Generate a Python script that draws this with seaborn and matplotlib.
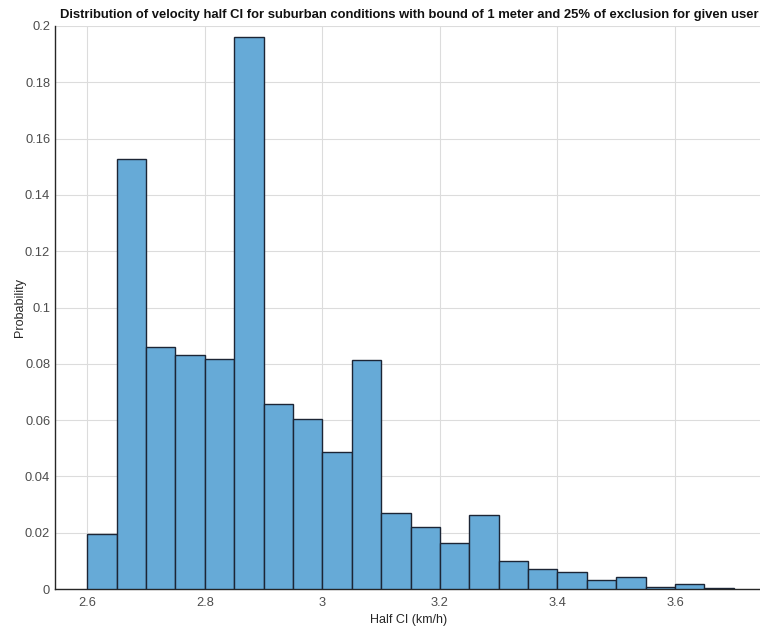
import numpy as np
import pandas as pd
import matplotlib
matplotlib.use('Agg')
import matplotlib.pyplot as plt
import seaborn as sns

# histogram bins (km/h) and probability per bin
bin_edges = [2.60, 2.65, 2.70, 2.75, 2.80, 2.85, 2.90, 2.95, 3.00, 3.05, 3.10, 3.15,
             3.20, 3.25, 3.30, 3.35, 3.40, 3.45, 3.50, 3.55, 3.60, 3.65, 3.70]
probability = [0.0195, 0.1527, 0.0859, 0.0833, 0.0816, 0.1962, 0.0656, 0.0605, 0.0485,
               0.0812, 0.0270, 0.0219, 0.0165, 0.0262, 0.0100, 0.0072, 0.0059, 0.0033,
               0.0043, 0.0007, 0.0016, 0.0004]
x_ticks = [2.6, 2.8, 3.0, 3.2, 3.4, 3.6]
x_tick_labels = ['2.6', '2.8', '3', '3.2', '3.4', '3.6']
y_ticks = [0, 0.02, 0.04, 0.06, 0.08, 0.1, 0.12, 0.14, 0.16, 0.18, 0.2]
y_tick_labels = ['0', '0.02', '0.04', '0.06', '0.08', '0.1', '0.12', '0.14', '0.16', '0.18', '0.2']

edges = np.array(bin_edges)
df = pd.DataFrame({'half_ci': (edges[:-1] + edges[1:]) / 2, 'prob': probability})

sns.set_style('white')
plt.rcParams['font.family'] = ['Liberation Sans', 'DejaVu Sans']

fig = plt.figure(figsize=(7.6, 6.26), dpi=100)
ax = fig.add_axes([55 / 760, 1 - 589 / 626, 707 / 760, 563 / 626])

sns.histplot(data=df, x='half_ci', weights='prob', bins=bin_edges, ax=ax,
             color='#66aad7', alpha=1.0, edgecolor='#1c2535', linewidth=1.0, zorder=3)

ax.set_xlim(2.545, 3.748)
ax.set_ylim(0, 0.2)
ax.set_xticks(x_ticks)
ax.set_xticklabels(x_tick_labels)
ax.set_yticks(y_ticks)
ax.set_yticklabels(y_tick_labels)
ax.grid(True, color='#dcdcdc', linewidth=0.8, zorder=0)
ax.set_axisbelow(True)

for side in ['top', 'right']:
    ax.spines[side].set_visible(False)
for side in ['left', 'bottom']:
    ax.spines[side].set_color('#262626')
    ax.spines[side].set_linewidth(1.0)

ax.tick_params(axis='both', direction='in', length=4, width=0.8, colors='#262626',
               labelcolor='#4d4d4d', labelsize=9.3)
ax.tick_params(axis='x', pad=6)

ax.set_xlabel('Half CI (km/h)', fontsize=9, color='#262626', labelpad=3)
ax.set_ylabel('Probability', fontsize=9, color='#262626', labelpad=-1)

ax.text(5 / 707, 1.008, 'Distribution of velocity half CI for suburban conditions with bound of 1 meter '
        'and 25% of exclusion for given user', transform=ax.transAxes, ha='left', va='bottom',
        fontsize=9.4, fontweight='bold', color='#111111', clip_on=False)

fig.savefig('out.png', dpi=100)
